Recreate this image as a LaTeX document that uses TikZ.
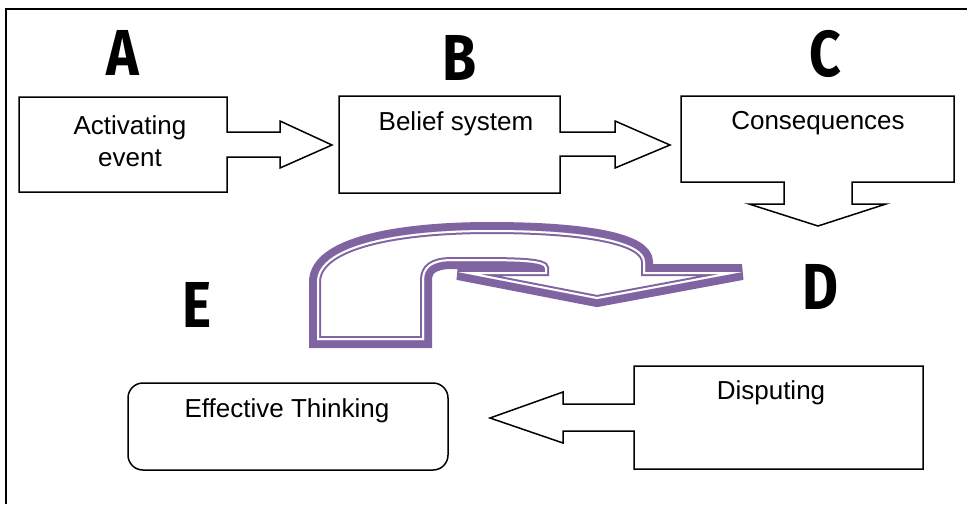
\documentclass[tikz,border=0pt]{standalone}
\usepackage{fontspec}
\setmainfont{Liberation Sans}
\newfontfamily\letterfont[FakeStretch=0.85]{Fira Sans}
\usetikzlibrary{arrows}
\definecolor{uturnpurple}{HTML}{8064A2}
\tikzset{
    frameline/.style={draw=black, line width=2pt},
    callout/.style={draw=black, line width=1.5pt, line join=miter},
    roundbox/.style={draw=black, line width=1.5pt, rounded corners=15pt, minimum width=320pt, minimum height=87pt},
    bigletter/.style={font=\letterfont\bfseries\fontsize{65}{65}\selectfont},
    boxtext/.style={font=\fontsize{26}{32}\selectfont, align=center}
}
% outline of the purple u-turn arrow
\newcommand{\uturnpath}{(317,340) -- (317,282) .. controls (317,246) and (395,230) .. (490,230) .. controls (590,230) and (645,242) .. (645,262) -- (645,272) -- (742,272) -- (597,299) -- (458,272) -- (545,272) -- (545,268) .. controls (545,262) and (520,261) .. (480,261) -- (452,261) .. controls (432,261) and (424,268) .. (424,280) -- (424,340) -- cycle}

\begin{document}
\begin{tikzpicture}
  [
    x                       = 1pt,
    y                       = -1pt,
    every node/.style       = {inner sep=0pt},
  ]
  \useasboundingbox (0,0) rectangle (967,504);
  \draw [frameline] (6,504) -- (6,9) -- (967,9);

  % letters
  \node [bigletter] (lettera) at (123,53) {A};
  \node [bigletter] (letterb) at (460,58) {B};
  \node [bigletter] (letterc) at (825,54) {C};
  \node [bigletter] (letterd) at (820,287) {D};
  \node [bigletter] (lettere) at (197,305) {E};

  % callout boxes
  \draw [callout] (19,97) -- (227,97) -- (227,132) -- (280,132) -- (280,121) -- (332,145)
    -- (280,168) -- (280,157) -- (227,157) -- (227,192) -- (19,192) -- cycle;
  \draw [callout] (339,96) -- (560,96) -- (560,132) -- (615,132) -- (615,121) -- (670,145)
    -- (615,168) -- (615,156) -- (560,156) -- (560,193) -- (339,193) -- cycle;
  \draw [callout] (681,96) -- (954,96) -- (954,182) -- (852,182) -- (852,204) -- (886,204)
    -- (818,226) -- (749,204) -- (784,204) -- (784,182) -- (681,182) -- cycle;
  \draw [callout] (923,366) -- (923,469) -- (634,469) -- (634,431) -- (563,431) -- (563,443)
    -- (490,418) -- (563,392) -- (563,404) -- (634,404) -- (634,366) -- cycle;
  \node [roundbox] (effbox) at (288,426.5) {};

  \node [boxtext] (activating) at (130,141) {Activating\\event};
  \node [boxtext] (belief) at (456,124) {Belief system};
  \node [boxtext] (consequences) at (818,123) {Consequences};
  \node [boxtext] (disputing) at (771,393) {Disputing};
  \node [boxtext] (effective) at (287,411) {Effective Thinking};

  % u-turn arrow, thick outer line and thin inner line
  \draw [uturnpurple, line width=16pt] \uturnpath;
  \begin{scope}
    \clip \uturnpath;
    \draw [white, line width=20pt] \uturnpath;
    \draw [uturnpurple, line width=8pt] \uturnpath;
    \draw [white, line width=4pt] \uturnpath;
  \end{scope}
\end{tikzpicture}
\end{document}
